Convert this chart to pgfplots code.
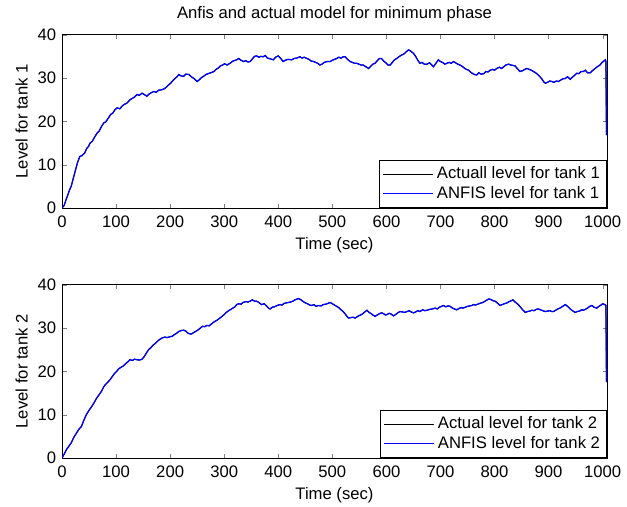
\documentclass[border=0pt]{standalone}
\usepackage{fontspec}
\setmainfont{Liberation Sans}
\usepackage{pgfplots}
\usepackage{pgfplotstable}
\pgfplotsset{compat=1.18}

% level of tank 1 (s, level)
\pgfplotstableread{
t y
0 0
4 0.6
8 2.1
11 3.1
14 4.2
17 5.0
21 6.9
25 8.8
29 10.6
33 11.9
37 12.1
42 12.7
46 13.8
49 14.2
52 15.0
56 15.4
61 16.5
65 17.3
69 17.8
73 18.8
77 19.6
81 19.9
86 20.8
90 21.6
94 21.9
98 22.7
102 23.1
107 22.9
111 23.5
115 23.9
120 24.2
126 25.0
130 25.3
134 25.6
139 26.2
143 26.0
148 26.5
152 26.2
157 25.8
161 26.3
165 26.6
170 26.9
174 26.7
179 27.2
185 27.3
189 27.5
193 27.9
197 28.4
201 28.8
205 29.4
209 29.9
213 30.3
216 30.8
220 30.5
225 30.4
229 30.9
235 30.8
239 30.3
244 29.9
250 29.2
254 29.6
258 30.1
262 30.4
266 30.8
270 31.0
275 31.2
281 31.5
285 32.0
289 32.3
293 32.8
297 33.0
301 33.3
305 33.0
311 33.4
316 33.9
323 34.2
327 34.5
331 34.1
336 33.8
340 34.0
344 33.7
348 33.8
352 34.4
356 35.0
360 35.1
364 34.8
368 35.0
372 34.9
376 35.2
380 34.6
386 34.4
391 34.2
395 34.8
400 35.1
404 34.6
409 33.8
413 34.1
418 34.3
425 34.2
429 34.5
434 34.6
440 34.9
444 34.6
448 34.8
453 34.5
457 34.3
461 33.9
465 33.8
469 33.6
473 33.4
477 33.0
481 33.2
485 33.6
490 33.8
496 33.8
500 34.1
504 34.3
508 34.5
512 34.8
516 34.6
520 34.9
524 34.9
528 34.3
533 33.8
537 33.6
541 33.4
545 33.4
549 33.2
553 33.0
557 33.0
562 32.6
567 32.2
571 32.7
575 33.2
579 33.4
583 34.0
587 34.5
591 34.5
595 33.9
600 33.4
603 33.0
607 33.0
611 33.6
615 34.2
619 34.5
623 34.9
628 35.3
633 35.6
637 36.1
641 36.5
645 36.2
650 35.7
654 35.0
658 34.1
662 33.4
666 33.6
670 33.2
675 33.2
680 33.5
684 33.0
687 32.6
691 33.3
696 34.2
700 33.8
705 33.5
708 33.2
712 33.4
716 33.6
720 33.4
724 33.8
728 33.5
732 33.2
736 33.0
740 32.7
745 32.2
748 32.0
752 31.8
756 31.3
760 31.0
763 30.8
767 30.7
771 31.2
775 30.9
780 31.0
784 31.5
788 31.4
792 31.8
796 32.0
800 31.8
804 32.2
809 32.5
813 32.2
817 32.6
821 33.0
826 33.2
830 33.0
834 32.9
838 32.8
842 32.2
847 31.5
852 31.7
856 32.0
860 32.2
864 32.0
868 31.8
872 31.5
876 31.2
880 30.8
884 30.3
888 29.7
891 29.1
894 28.8
898 29.0
902 29.3
906 29.2
910 29.0
914 29.3
918 29.2
922 29.5
926 29.8
931 29.9
935 30.3
940 29.7
944 30.2
948 30.6
952 31.1
956 31.0
960 31.5
964 31.5
968 31.8
972 31.2
977 31.2
981 31.7
986 32.2
990 32.6
995 33.0
999 33.6
1003 34.0
1005 34.2
1006 33.8
1007 16.8
}\tankone

% level of tank 2 (s, level)
\pgfplotstableread{
t y
0 0
4 0.9
8 1.9
12 2.6
17 3.5
22 4.8
27 5.8
31 6.6
36 7.3
40 8.6
45 10.0
50 11.0
55 11.9
60 12.9
64 13.8
68 14.5
73 15.4
77 16.4
80 16.9
84 17.4
89 18.1
93 18.8
97 19.5
101 20.0
105 20.6
110 21.0
114 21.3
118 21.8
122 22.2
126 22.7
130 22.5
134 22.8
138 22.7
143 22.6
148 22.8
152 23.4
156 24.2
160 25.0
164 25.4
168 26.0
173 26.5
177 27.0
181 27.4
185 27.7
190 27.9
195 27.8
200 28.0
204 28.1
208 28.5
212 28.8
216 29.2
220 29.4
225 29.5
229 29.3
232 28.9
235 28.7
239 28.6
243 28.9
247 29.2
251 29.5
256 30.0
260 30.4
264 30.3
268 30.6
272 30.5
276 30.9
280 31.3
284 31.6
288 31.9
292 32.3
296 32.7
300 33.1
303 33.5
307 33.9
311 34.2
316 34.6
320 34.9
323 35.4
327 35.6
331 35.5
335 35.9
340 36.1
344 36.0
348 36.2
352 36.5
356 36.2
360 36.2
364 35.9
369 35.4
374 35.6
379 35.0
382 34.6
385 34.4
389 34.8
393 34.9
398 35.2
403 35.4
407 35.3
411 35.7
415 35.8
419 35.9
423 36.0
427 36.2
431 36.5
437 36.8
441 36.6
445 36.2
450 35.8
454 35.6
458 35.3
462 35.2
466 35.4
470 35.0
474 35.2
479 35.1
483 35.4
488 35.5
492 35.7
496 35.9
500 35.6
504 35.3
508 35.0
512 34.7
516 34.2
520 33.8
524 33.2
527 32.7
530 32.3
534 32.4
538 32.5
542 32.3
546 32.6
550 32.9
554 33.1
558 33.5
561 33.8
564 34.1
568 33.6
572 33.3
575 33.0
579 32.7
583 33.0
587 33.3
591 33.5
595 33.3
598 33.0
601 33.1
605 33.4
609 33.2
613 32.8
617 33.1
621 33.5
625 33.8
630 33.7
634 33.6
638 33.8
642 34.0
646 33.7
650 33.5
654 33.7
658 34.0
662 33.8
667 34.2
671 34.0
675 34.1
680 34.3
685 34.4
690 34.6
694 34.4
698 34.8
702 35.0
705 35.2
710 34.9
714 35.1
718 35.0
722 34.6
726 34.4
730 34.2
734 34.5
738 34.7
742 34.6
746 34.8
750 35.0
754 35.1
758 35.2
761 35.4
765 35.3
769 35.5
773 35.7
776 35.8
780 36.0
785 36.4
789 36.7
793 36.6
797 36.3
801 36.2
805 35.8
810 35.2
814 35.4
818 35.6
823 35.8
827 36.1
831 36.3
834 36.5
838 36.0
841 35.7
844 35.4
848 34.8
852 34.2
857 33.6
861 33.8
865 33.9
869 34.1
873 34.0
877 34.3
881 34.4
885 34.2
889 34.0
894 33.8
898 33.9
902 34.0
906 33.8
909 33.8
913 34.1
917 34.4
921 34.6
926 35.0
931 35.4
935 35.0
940 34.4
944 34.0
949 33.6
953 33.8
957 33.9
961 34.2
964 34.1
968 34.3
972 34.6
976 35.0
980 35.2
984 34.8
989 34.6
993 35.0
997 35.3
1000 35.6
1004 35.4
1006 35.2
1007 17.5
}\tanktwo

\definecolor{anfisblue}{RGB}{0,0,255}

\pgfplotsset{
  tankax/.style={
    scale only axis,
    width=327pt, height=104pt,
    xmin=0, xmax=1008, ymin=0, ymax=40,
    xtick={0,100,...,1000}, ytick={0,10,...,40},
    tick align=inside, xtick pos=both, ytick pos=both,
    major tick length=2.7pt,
    tick label style={font=\fontsize{10}{12}\selectfont},
    xticklabel style={yshift=-1pt},
    label style={font=\fontsize{10}{12}\selectfont},
    /pgf/number format/assume math mode=true,
    /pgf/number format/1000 sep={},
    xlabel={Time (sec)},
    xlabel style={yshift=1pt},
    ylabel style={yshift=-1pt},
    axis line style={line width=0.6pt},
    legend cell align=left,
    legend style={at={(1,0)}, anchor=south east,
      font=\fontsize{10}{12}\selectfont, row sep=-1pt, inner sep=2pt},
  },
  actualline/.style={draw=black, line width=0.6pt,
    legend image code/.code={\draw[draw=black, line width=0.6pt] (0pt,0pt) -- (30pt,0pt);}},
  anfisline/.style={draw=anfisblue, line width=0.75pt,
    legend image code/.code={\draw[draw=anfisblue, line width=0.8pt] (0pt,0pt) -- (30pt,0pt);}},
}

\begin{document}
\begin{tikzpicture}
\path[use as bounding box] (-37.2pt,-178.8pt) rectangle (339pt,124.8pt);
\begin{axis}[tankax,
  ylabel={Level for tank 1},
  title={Anfis and actual model for minimum phase},
  title style={font=\fontsize{10}{12}\selectfont, yshift=-2pt}]
\addplot[actualline] table[x=t, y=y] {\tankone};
\addplot[anfisline] table[x=t, y=y] {\tankone};
\legend{Actuall level for tank 1, ANFIS level for tank 1}
\end{axis}
\begin{axis}[tankax, yshift=-150pt,
  ylabel={Level for tank 2}]
\addplot[actualline] table[x=t, y=y] {\tanktwo};
\addplot[anfisline] table[x=t, y=y] {\tanktwo};
\legend{Actual level for tank 2, ANFIS level for tank 2}
\end{axis}
\end{tikzpicture}
\end{document}
